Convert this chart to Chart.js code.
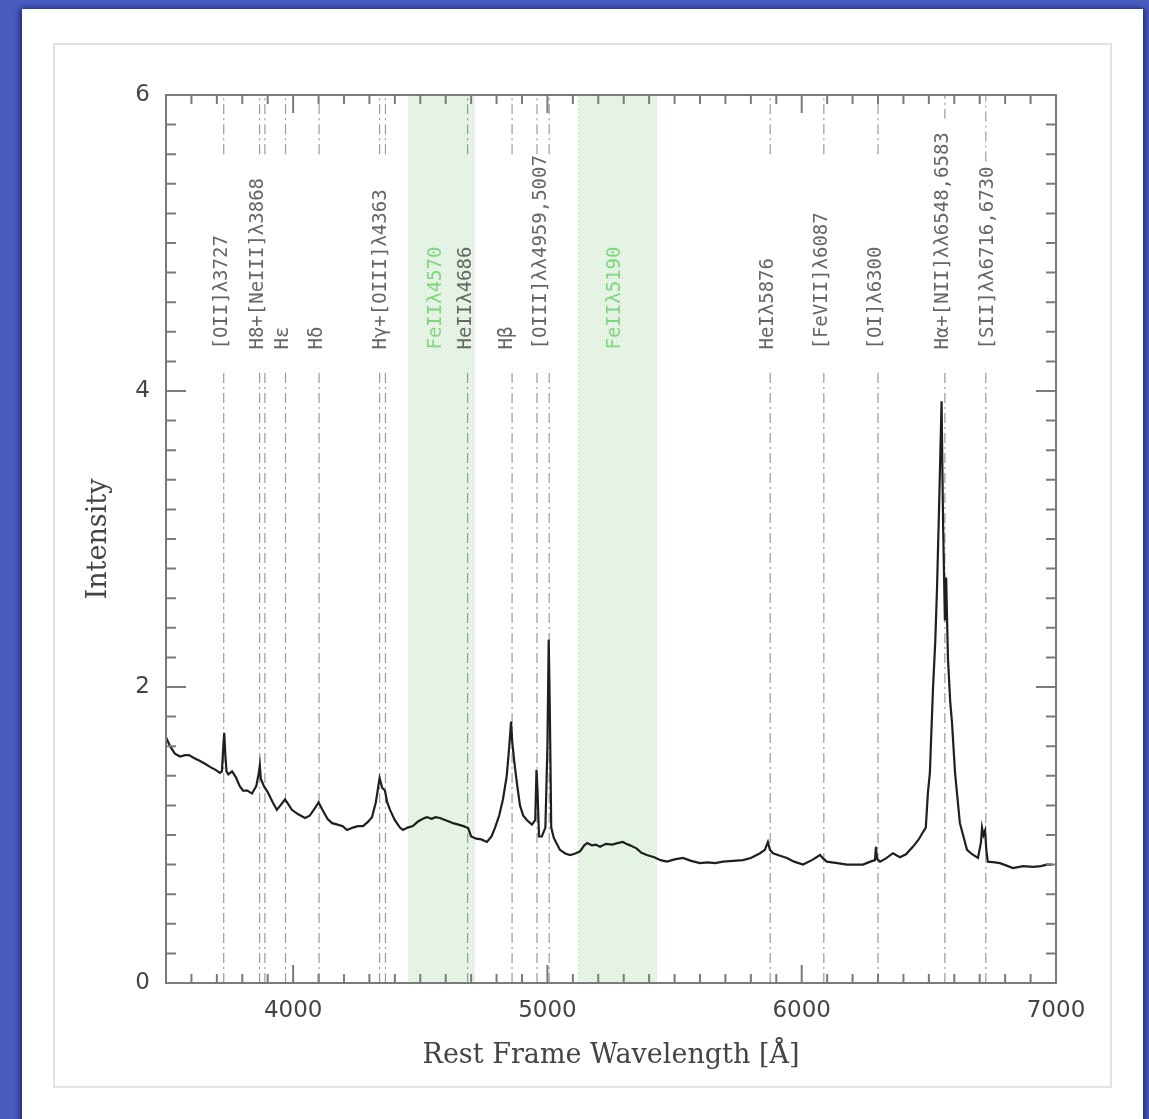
<!DOCTYPE html>
<html>
<head>
<meta charset="utf-8">
<script src="https://cdn.jsdelivr.net/npm/chart.js@4.4.1/dist/chart.umd.min.js"></script>
<style>
  body { margin: 0; background: #4a5bbf; width: 1149px; height: 1119px; overflow: hidden; }
  #sheet { position: absolute; left: 22px; top: 9px; width: 1121px; height: 1115px; background: #fff;
           box-shadow: -3px 0 5px rgba(10,20,80,0.55), 3px 0 5px rgba(10,20,80,0.55); }
  #box { position: absolute; left: 53px; top: 43px; width: 1055px; height: 1041px; border: 2px solid #e2e2e2; }
  #chart { position: absolute; left: 0; top: 0; }
</style>
</head>
<body>
<div id="sheet"></div>
<div id="box"><canvas id="chart" width="1055" height="1041"></canvas></div>
<script>
(function() {
    "use strict";

    // spectrum
    var wavelength = [3500, 3516, 3535, 3555, 3575, 3590, 3610, 3634, 3655, 3673, 3695, 3712, 3720, 3726, 3729, 3733, 3738, 3745, 3760, 3775,
        3790, 3803, 3820, 3838, 3855, 3865, 3869, 3873, 3885, 3900, 3920, 3936, 3950, 3968, 3980, 3995, 4020, 4047, 4065, 4085,
        4100, 4115, 4135, 4153, 4175, 4195, 4212, 4235, 4255, 4275, 4295, 4310, 4325, 4340, 4350, 4361, 4370, 4381, 4400, 4420,
        4432, 4450, 4471, 4490, 4510, 4526, 4545, 4560, 4577, 4600, 4615, 4629, 4650, 4670, 4688, 4700, 4720, 4740, 4762, 4780,
        4794, 4810, 4825, 4840, 4850, 4857, 4862, 4870, 4880, 4892, 4905, 4920, 4939, 4952, 4957, 4961, 4967, 4978, 4992, 5000,
        5005, 5009, 5015, 5025, 5049, 5070, 5089, 5110, 5128, 5145, 5156, 5175, 5190, 5207, 5230, 5255, 5275, 5297, 5310, 5325,
        5350, 5370, 5391, 5420, 5445, 5470, 5500, 5533, 5565, 5600, 5630, 5660, 5690, 5730, 5769, 5800, 5836, 5855, 5867, 5875,
        5887, 5915, 5942, 5970, 6005, 6040, 6072, 6085, 6099, 6140, 6178, 6210, 6241, 6270, 6288, 6292, 6296, 6308, 6330, 6359,
        6386, 6410, 6437, 6460, 6477, 6488, 6496, 6504, 6516, 6525, 6532, 6540, 6550, 6556, 6563, 6568, 6575, 6584, 6591, 6603,
        6622, 6650, 6670, 6693, 6705, 6709, 6715, 6721, 6726, 6732, 6760, 6780, 6831, 6870, 6910, 6940, 6964, 6984];
    var intensity = [1.66, 1.60, 1.55, 1.53, 1.54, 1.54, 1.52, 1.50, 1.48, 1.46, 1.44, 1.42, 1.43, 1.62, 1.69, 1.55, 1.43, 1.41, 1.43, 1.39,
        1.33, 1.30, 1.30, 1.28, 1.33, 1.42, 1.47, 1.38, 1.33, 1.29, 1.22, 1.17, 1.20, 1.24, 1.21, 1.17, 1.14, 1.115, 1.13, 1.18,
        1.22, 1.17, 1.11, 1.08, 1.07, 1.06, 1.034, 1.05, 1.06, 1.06, 1.09, 1.12, 1.22, 1.385, 1.32, 1.30, 1.22, 1.17, 1.10, 1.05,
        1.034, 1.05, 1.06, 1.09, 1.11, 1.12, 1.11, 1.12, 1.115, 1.10, 1.09, 1.08, 1.07, 1.06, 1.047, 0.99, 0.975, 0.97, 0.953, 0.99,
        1.05, 1.13, 1.24, 1.40, 1.60, 1.766, 1.62, 1.49, 1.35, 1.20, 1.13, 1.10, 1.07, 1.10, 1.44, 1.30, 0.99, 0.99, 1.05, 1.60,
        2.32, 1.90, 1.05, 0.98, 0.90, 0.875, 0.865, 0.875, 0.89, 0.93, 0.946, 0.93, 0.935, 0.92, 0.94, 0.935, 0.945, 0.953, 0.94, 0.93,
        0.91, 0.88, 0.865, 0.85, 0.83, 0.82, 0.835, 0.845, 0.825, 0.81, 0.815, 0.81, 0.82, 0.825, 0.83, 0.845, 0.877, 0.90, 0.953, 0.90,
        0.877, 0.86, 0.845, 0.82, 0.80, 0.83, 0.865, 0.84, 0.82, 0.81, 0.80, 0.80, 0.80, 0.82, 0.83, 0.92, 0.84, 0.82, 0.84, 0.877,
        0.85, 0.87, 0.92, 0.97, 1.02, 1.05, 1.28, 1.42, 1.98, 2.30, 2.66, 3.20, 3.93, 3.10, 2.45, 2.74, 2.20, 1.90, 1.76, 1.42,
        1.08, 0.90, 0.87, 0.845, 0.95, 1.05, 1.00, 1.03, 0.90, 0.82, 0.815, 0.81, 0.777, 0.79, 0.785, 0.79, 0.80, 0.80];

    // marked emission lines (dash-dot) and where their upper piece stops
    var lineWl = [3727, 3868, 3889, 3970, 4102, 4340, 4363, 4686, 4861, 4959, 5007, 5876, 6087, 6300, 6563, 6724];
    var lineTop = [5.6, 5.6, 5.6, 5.6, 5.6, 5.6, 5.6, 5.6, 5.6, 5.6, 5.6, 5.6, 5.6, 5.6, 5.84, 5.55];

    // rotated labels
    var labelText = ['[OII]λ3727', 'H8+[NeIII]λ3868', 'Hε', 'Hδ', 'Hγ+[OIII]λ4363', 'FeIIλ4570', 'HeIIλ4686', 'Hβ',
        '[OIII]λλ4959,5007', 'FeIIλ5190', 'HeIλ5876', '[FeVII]λ6087', '[OI]λ6300', 'Hα+[NII]λλ6548,6583', '[SII]λλ6716,6730'];
    var labelWl = [3727, 3870, 3970, 4102, 4352, 4570, 4686, 4850, 4983, 5275, 5876, 6087, 6300, 6563, 6740];
    var labelGreen = [false, false, false, false, false, true, false, false, false, true, false, false, false, false, false];

    // FeII bands
    var bandStart = [4452, 5120];
    var bandEnd = [4715, 5431];

    var xTicks = [4000, 5000, 6000, 7000];
    var yTicks = [0, 2, 4, 6];

    function hatch() {
        var c = document.createElement('canvas');
        c.width = 4; c.height = 4;
        var g = c.getContext('2d');
        g.fillStyle = '#f1f9f1';
        g.fillRect(0, 0, 4, 4);
        g.fillStyle = '#cfeacf';
        [[0, 0], [1, 1], [2, 2], [3, 3], [1, 3], [3, 1]].forEach(function(p) { g.fillRect(p[0], p[1], 1, 1); });
        return g.createPattern(c, 'repeat');
    }

    var datasets = [];
    datasets.push({
        data: wavelength.map(function(w, i) { return {x: w, y: intensity[i]}; }),
        borderColor: '#1f1f1f', borderWidth: 2.2, pointRadius: 0, tension: 0, order: 0
    });
    lineWl.forEach(function(w, i) {
        datasets.push({
            data: [{x: w, y: 0}, {x: w, y: 4.15}, {x: w, y: null}, {x: w, y: lineTop[i]}, {x: w, y: 6}],
            borderColor: '#9a9a9a', borderWidth: 1.2, borderDash: [10, 4, 2, 4],
            pointRadius: 0, spanGaps: false, order: 1
        });
    });
    var pattern = hatch();
    bandStart.forEach(function(s, i) {
        datasets.push({
            data: [{x: s, y: 6}, {x: bandEnd[i], y: 6}],
            borderWidth: 0, borderColor: 'rgba(0,0,0,0)', backgroundColor: pattern,
            fill: 'origin', pointRadius: 0, order: 2
        });
    });

    // frame, inward ticks and line labels
    var framePlugin = {
        id: 'frame',
        afterDatasetsDraw: function(chart) {
            var ctx = chart.ctx, a = chart.chartArea;
            var xs = chart.scales.x, ys = chart.scales.y;
            ctx.save();
            ctx.strokeStyle = '#7a7a7a';
            ctx.lineWidth = 2;
            ctx.strokeRect(a.left, a.top, a.right - a.left, a.bottom - a.top);
            ctx.beginPath();
            for (var v = 3500; v <= 7000; v += 100) {
                var px = xs.getPixelForValue(v);
                var len = v % 1000 === 0 ? 18 : 9;
                ctx.moveTo(px, a.bottom); ctx.lineTo(px, a.bottom - len);
                ctx.moveTo(px, a.top); ctx.lineTo(px, a.top + len);
            }
            for (var k = 0; k <= 30; k++) {
                var py = ys.getPixelForValue(k * 0.2);
                var l2 = k % 10 === 0 ? 20 : 10;
                ctx.moveTo(a.left, py); ctx.lineTo(a.left + l2, py);
                ctx.moveTo(a.right, py); ctx.lineTo(a.right - l2, py);
            }
            ctx.stroke();

            ctx.font = '19px "DejaVu Sans Mono"';
            ctx.textAlign = 'left';
            ctx.textBaseline = 'middle';
            labelText.forEach(function(t, i) {
                ctx.save();
                ctx.translate(xs.getPixelForValue(labelWl[i]) - 2, ys.getPixelForValue(4.28));
                ctx.rotate(-Math.PI / 2);
                ctx.fillStyle = labelGreen[i] ? '#7fd67f' : '#666';
                ctx.fillText(t, 0, 0);
                ctx.restore();
            });
            ctx.restore();
        }
    };

    new Chart(document.getElementById('chart').getContext('2d'), {
        type: 'line',
        data: {datasets: datasets},
        options: {
            responsive: false,
            animation: false,
            layout: {padding: {top: 50, right: 54, left: 0, bottom: 0}},
            plugins: {legend: {display: false}, tooltip: {enabled: false}},
            scales: {
                x: {
                    type: 'linear', min: 3500, max: 7000,
                    grid: {display: false, drawTicks: false}, border: {display: false},
                    afterBuildTicks: function(s) { s.ticks = xTicks.map(function(v) { return {value: v}; }); },
                    afterFit: function(s) { s.height = 103; },
                    ticks: {padding: 14, color: '#444', font: {family: 'DejaVu Sans', size: 23}, maxRotation: 0,
                        callback: function(v) { return String(v); }},
                    title: {display: true, text: 'Rest Frame Wavelength [Å]', color: '#444',
                        font: {family: 'DejaVu Serif', size: 27}, padding: {top: 0, bottom: 14}}
                },
                y: {
                    type: 'linear', min: 0, max: 6,
                    grid: {display: false, drawTicks: false}, border: {display: false},
                    afterBuildTicks: function(s) { s.ticks = yTicks.map(function(v) { return {value: v}; }); },
                    afterFit: function(s) { s.width = 111; },
                    ticks: {padding: 16, color: '#444', font: {family: 'DejaVu Sans', size: 23},
                        callback: function(v) { return String(v); }},
                    title: {display: true, text: 'Intensity', color: '#444',
                        font: {family: 'DejaVu Serif', size: 27}, padding: {top: 28, bottom: 0}}
                }
            }
        },
        plugins: [framePlugin]
    });
})();
</script>
</body>
</html>
